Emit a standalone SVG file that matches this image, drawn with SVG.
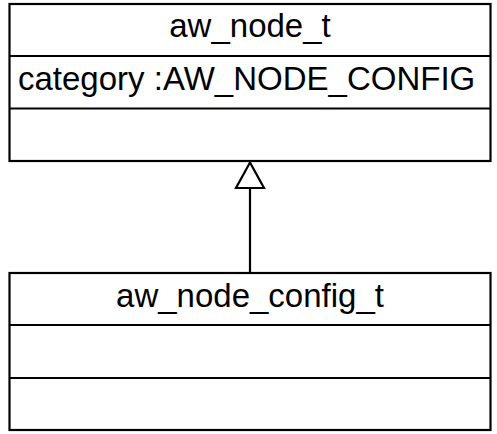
<svg xmlns="http://www.w3.org/2000/svg" width="497" height="434" viewBox="0 0 497 434">
<style>
.box{fill:#fff;stroke:#000;stroke-width:2.2}
.ln{stroke:#000;stroke-width:2.2;fill:none}
.t{font-family:"Liberation Sans",Arial,sans-serif;font-size:33px;fill:#000}
</style>
<rect width="497" height="434" fill="#fff"/>
<g id="aw_node_t">
<rect class="box" x="9.5" y="4" width="481" height="157"/>
<line class="ln" x1="9.5" y1="56" x2="490.5" y2="56"/>
<line class="ln" x1="9.5" y1="108.5" x2="490.5" y2="108.5"/>
<text class="t" x="250" y="37" text-anchor="middle">aw_node_t</text>
<text class="t" x="18" y="90">category :AW_NODE_CONFIG</text>
</g>
<g id="aw_node_config_t">
<rect class="box" x="9.5" y="273" width="481" height="157"/>
<line class="ln" x1="9.5" y1="325" x2="490.5" y2="325"/>
<line class="ln" x1="9.5" y1="378" x2="490.5" y2="378"/>
<text class="t" x="250" y="307" text-anchor="middle">aw_node_config_t</text>
</g>
<g id="connectors">
<line class="ln" x1="250" y1="188" x2="250" y2="273"/>
<polygon class="ln" points="250,162.5 236,188 264,188" fill="#fff"/>
</g>
</svg>
